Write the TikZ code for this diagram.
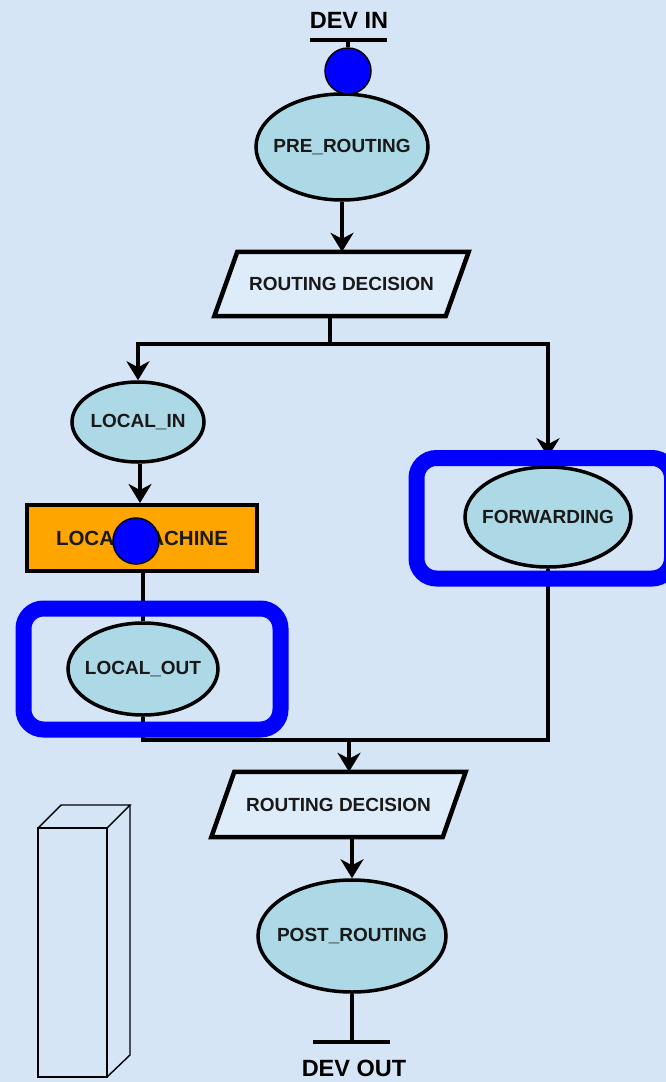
\documentclass[tikz,border=0pt]{standalone}
\usepackage{fontspec}
\setmainfont{Liberation Sans}
\usetikzlibrary{shapes.geometric,arrows.meta}
\pgfdeclarelayer{bg}
\pgfdeclarelayer{under}
\pgfdeclarelayer{over}
\pgfsetlayers{bg,under,main,over}

\definecolor{paper}{RGB}{213,229,246}
\definecolor{hookfill}{RGB}{173,216,230}
\definecolor{decfill}{RGB}{222,236,249}
\definecolor{machine}{RGB}{255,165,0}
\definecolor{hookblue}{RGB}{0,0,255}
\definecolor{ink}{RGB}{25,25,25}

% zero-width label so the ellipse size comes from its minimum width/height only
\newcommand\hooklabel[1]{\makebox[0pt]{#1}}

\begin{document}
\begin{tikzpicture}[x=1pt,y=-1pt,
  hook/.style={ellipse,draw=black,line width=3.5pt,fill=hookfill,inner sep=0pt,
    text=ink,font=\bfseries\fontsize{19}{21}\selectfont},
  decision/.style={rectangle,inner sep=0pt,text=ink,
    font=\bfseries\fontsize{19}{21}\selectfont},
  decshape/.style={draw=black,fill=decfill,line width=4.5pt},
  machinebox/.style={rectangle,draw=black,line width=4pt,fill=machine,inner sep=0pt,
    text=ink,font=\bfseries\fontsize{20.5}{23}\selectfont},
  terminal/.style={inner sep=0pt,text=black,font=\bfseries\fontsize{23.5}{26}\selectfont},
  tap/.style={circle,draw=black,line width=1.5pt,fill=hookblue,minimum size=46pt,inner sep=0pt},
  link/.style={line width=4pt},
  flow/.style={line width=4pt,-{Stealth[length=19pt,width=23pt,inset=6pt]}},
  bar/.style={line width=4.5pt},
  solid3d/.style={line width=1.4pt,line join=miter},
  frame/.style={draw=hookblue,line width=16pt,rounded corners=20pt}]

\begin{pgfonlayer}{bg}
  \fill[paper] (0,0) rectangle (666,1082);
\end{pgfonlayer}
\useasboundingbox (0,0) rectangle (666,1082);

% entry and exit terminals
\node[terminal] (devin) at (349,20) {DEV IN};
\node[terminal] (devout) at (354,1068) {DEV OUT};
\coordinate (inL) at (310,40);
\coordinate (inR) at (387,40);
\coordinate (inM) at (348,40);
\coordinate (outL) at (313,1042);
\coordinate (outR) at (390,1042);
\coordinate (outM) at (352,1042);

% hooks, decisions and the local machine
\node[hook,minimum width=172pt,minimum height=106pt] (pre) at (342,147) {\hooklabel{PRE\_ROUTING}};
\node[decision,minimum width=231pt,minimum height=64pt] (rd1) at (341.5,284) {ROUTING DECISION};
\node[hook,minimum width=132pt,minimum height=80pt] (lin) at (138,422) {\hooklabel{LOCAL\_IN}};
\node[machinebox,minimum width=230pt,minimum height=66pt] (lm) at (142,538) {LOCAL MACHINE};
\node[hook,minimum width=150pt,minimum height=92pt] (lout) at (143,669) {\hooklabel{LOCAL\_OUT}};
\node[hook,minimum width=166pt,minimum height=100pt] (fwd) at (548,517) {\hooklabel{FORWARDING}};
\node[decision,minimum width=231pt,minimum height=65pt] (rd2) at (338.5,804.5) {ROUTING DECISION};
\node[hook,minimum width=188pt,minimum height=112pt] (post) at (352,936) {\hooklabel{POST\_ROUTING}};

% slanted outlines of the two routing decisions
\begin{pgfonlayer}{under}
  \foreach \d in {rd1,rd2}
    \filldraw[decshape] ([xshift=-11.5pt]\d.south west) -- ([xshift=-11.5pt]\d.south east)
      -- ([xshift=11.5pt]\d.north east) -- ([xshift=11.5pt]\d.north west) -- cycle;
\end{pgfonlayer}

% capture points
\node[tap] (c1) at (348,71) {};
\node[tap] (c2) at (136,541) {};

% connectors
\draw[bar] (inL) -- (inR);
\draw[link] (inM) -- (c1);
\draw[flow] (pre.south) -- (pre.south |- rd1.north);
\coordinate (j1) at (330,344);
\draw[link] (rd1.south -| j1) -- (j1);
\draw[flow] (j1) -| (lin.north);
\draw[flow] (j1) -| ([yshift=8pt]fwd.north);
\draw[flow] (lin.south -| 140,0) -- (lm.north -| 140,0);
\draw[link] (lm.south -| lout.north) -- (lout.north);
\coordinate (j2) at (349,740);
\draw[link] (lout.south) |- (j2) -| (fwd.south);
\draw[flow] (j2) -- (j2 |- rd2.north);
\draw[flow] (post.north |- rd2.south) -- (post.north);
\draw[link] (post.south) -- (post.south |- outM);
\draw[bar] (outL) -- (outR);

% upright box in the lower left
\draw[solid3d] (38,828) rectangle (107,1077);
\draw[solid3d] (38,828) -- (61,805) -- (130,805) -- (107,828);
\draw[solid3d] (130,805) -- (130,1055) -- (107,1077);

% highlight frames
\begin{pgfonlayer}{over}
  \begin{scope}
    \clip (0,0) rectangle (666,1082);
    \draw[frame] (23.5,608.5) rectangle (280.5,729.5);
    \draw[frame] (416.5,458) rectangle (672,578.5);
  \end{scope}
\end{pgfonlayer}
\end{tikzpicture}
\end{document}
